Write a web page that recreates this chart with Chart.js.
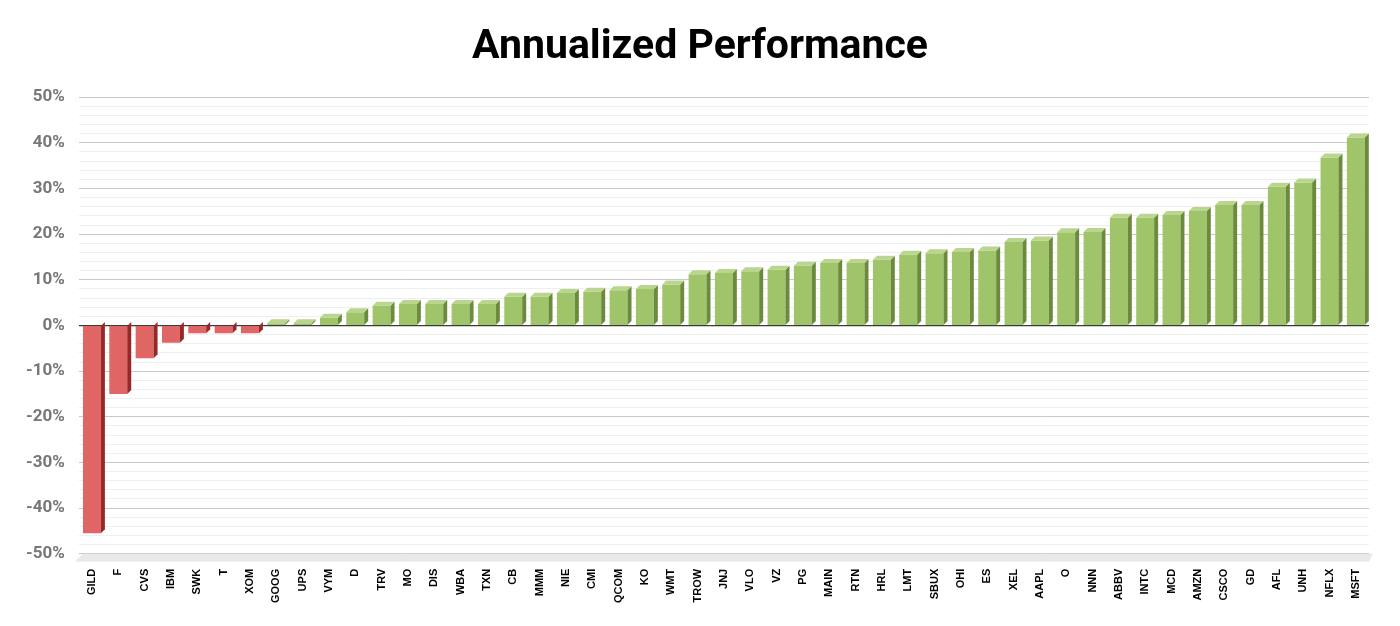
<!DOCTYPE html>
<html>
<head>
<meta charset="utf-8">
<title>Annualized Performance</title>
<script src="https://cdn.jsdelivr.net/npm/chart.js@4"></script>
<style>
  html, body { margin: 0; padding: 0; background: #fff; }
  .wrapper { width: 1400px; height: 626px; }
</style>
</head>
<body>
<div class="wrapper">
  <canvas id="myChart" width="1400" height="626"></canvas>
</div>
<script>
const tickers = [
  "GILD", "F", "CVS", "IBM", "SWK", "T", "XOM", "GOOG", "UPS", "VYM",
  "D", "TRV", "MO", "DIS", "WBA", "TXN", "CB", "MMM", "NIE", "CMI",
  "QCOM", "KO", "WMT", "TROW", "JNJ", "VLO", "VZ", "PG", "MAIN", "RTN",
  "HRL", "LMT", "SBUX", "OHI", "ES", "XEL", "AAPL", "O", "NNN", "ABBV",
  "INTC", "MCD", "AMZN", "CSCO", "GD", "AFL", "UNH", "NFLX", "MSFT",
];

// annualized return, percent
const returns = [
  -45.5, -15.0, -7.2, -3.8, -1.7, -1.7, -1.7, 0.5, 0.5, 1.7,
  2.9, 4.3, 4.7, 4.7, 4.7, 4.7, 6.3, 6.3, 7.1, 7.4,
  7.7, 8.0, 9.0, 11.2, 11.5, 11.9, 12.2, 13.1, 13.7, 13.7,
  14.4, 15.5, 15.8, 16.1, 16.4, 18.3, 18.6, 20.4, 20.5, 23.6,
  23.6, 24.2, 25.1, 26.4, 26.4, 30.4, 31.3, 36.8, 41.2,
];

const yTicks = [-50, -40, -30, -20, -10, 0, 10, 20, 30, 40, 50];

const RED = { front: "#e06666", side: "#962828", top: "#ea8a8a" };
const GREEN = { front: "#a0c46a", side: "#6c8a3c", top: "#b9d58e" };
const DX = 4, DY = 4;

// fake excel-style 3D: side + top faces from the bar elements
const depth3d = {
  id: "depth3d",
  beforeDatasetsDraw(chart) {
    const { ctx, chartArea } = chart;
    const b = chartArea.bottom;
    ctx.save();
    ctx.fillStyle = "#e9e9e9";
    ctx.beginPath();
    ctx.moveTo(chartArea.left + DX, b);
    ctx.lineTo(chartArea.right + DX, b);
    ctx.lineTo(chartArea.right, b + 8);
    ctx.lineTo(chartArea.left - 4, b + 8);
    ctx.closePath();
    ctx.fill();
    ctx.restore();
  },
  afterDatasetsDraw(chart) {
    const { ctx } = chart;
    const meta = chart.getDatasetMeta(0);
    ctx.save();
    meta.data.forEach((bar, i) => {
      const { x, y, base, width } = bar.getProps(["x", "y", "base", "width"], true);
      const c = returns[i] < 0 ? RED : GREEN;
      const l = x - width / 2, r = x + width / 2;
      const top = Math.min(y, base), bottom = Math.max(y, base);
      ctx.fillStyle = c.side;
      ctx.beginPath();
      ctx.moveTo(r, top);
      ctx.lineTo(r + DX, top - DY);
      ctx.lineTo(r + DX, bottom - DY);
      ctx.lineTo(r, bottom);
      ctx.closePath();
      ctx.fill();
      if (returns[i] >= 0) {
        ctx.fillStyle = c.top;
        ctx.beginPath();
        ctx.moveTo(l, top);
        ctx.lineTo(l + DX, top - DY);
        ctx.lineTo(r + DX, top - DY);
        ctx.lineTo(r, top);
        ctx.closePath();
        ctx.fill();
      }
    });
    ctx.restore();
  },
};

const ctx = document.getElementById("myChart").getContext("2d");

new Chart(ctx, {
  type: "bar",
  data: {
    labels: tickers,
    datasets: [
      {
        data: returns,
        backgroundColor: returns.map((v) => (v < 0 ? RED.front : GREEN.front)),
        borderWidth: 0,
        barPercentage: 0.68,
        categoryPercentage: 1,
      },
    ],
  },
  options: {
    responsive: false,
    animation: false,
    layout: { padding: { left: 0, right: 0, bottom: 16 } },
    plugins: {
      legend: { display: false },
      tooltip: { enabled: false },
      title: {
        display: true,
        text: "Annualized Performance",
        color: "#000",
        font: { family: "Roboto", size: 41, weight: "bold" },
        padding: { top: 23, bottom: 25 },
      },
    },
    scales: {
      x: {
        grid: { display: false },
        border: { display: false },
        ticks: {
          autoSkip: false,
          minRotation: 90,
          maxRotation: 90,
          padding: 7,
          color: "#000",
          font: { family: "Liberation Sans", size: 11, weight: "bold" },
        },
      },
      y: {
        min: -50,
        max: 50,
        border: { display: false },
        afterFit: (scale) => {
          scale.width += 12;
        },
        grid: {
          drawTicks: false,
          color: (c) => {
            const v = c.tick.value;
            if (v === 0) return "#3a3a3a";
            return v % 10 === 0 ? "#c9c9c9" : "#efefef";
          },
          lineWidth: (c) => (c.tick.value === 0 ? 1.2 : 1),
        },
        ticks: {
          stepSize: 2,
          autoSkip: false,
          padding: 14,
          color: "#777",
          font: { family: "Roboto", size: 17, weight: "bold" },
          callback: (v) => (yTicks.includes(v) ? v + "%" : ""),
        },
      },
      // empty right-hand gutter
      gutter: {
        type: "linear",
        position: "right",
        display: true,
        grid: { display: false },
        border: { display: false },
        ticks: { display: false },
        afterFit: (scale) => {
          scale.width = 31;
        },
      },
    },
  },
  plugins: [depth3d],
});
</script>
</body>
</html>
